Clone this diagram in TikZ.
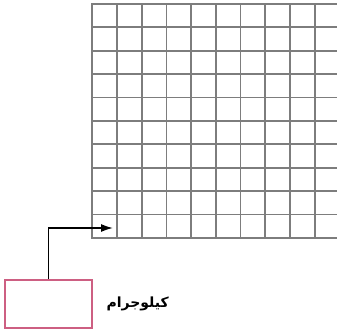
\documentclass[tikz,border=0pt]{standalone}
\usepackage{fontspec}
\usepackage{tikz}
\usetikzlibrary{positioning, arrows.meta, calc}
\TeXXeTstate=1
\newfontfamily\arabicfont[Script=Arabic]{DejaVu Sans}
\definecolor{cG}{RGB}{125,125,125}
\definecolor{cP}{RGB}{205,95,130}

\begin{document}
\begin{tikzpicture}[x=1pt, y=1pt, thick,
                    gridline/.style={draw=cG, line width=1.8pt},
                    kgbox/.style={draw=cP, line width=1.6pt, minimum width=87pt, minimum height=48pt, inner sep=0pt}]
    \useasboundingbox (0,0) rectangle (337,331);

    % Grid
    \foreach \j in {0,...,10}
        \draw[gridline] (91.5,{327-23.4*\j}) -- (337,{327-23.4*\j});
    \foreach \i in {0,...,9}
        \draw[gridline] ({92.3+24.7*\i},327.9) -- ({92.3+24.7*\i},92.1);

    % Node Placements
    \node[kgbox] (kg) at (48.5,27) {};
    \node[right=10pt of kg, font=\fontsize{14}{16}\selectfont\bfseries] (kgLabel) {\arabicfont\beginR كيلوجرام\endR};
    \coordinate (tip) at (113,103);

    % Arrow
    \draw[line width=1.6pt, -{Latex[length=12pt,width=8pt]}] (kg.north) |- (tip);
\end{tikzpicture}
\end{document}
